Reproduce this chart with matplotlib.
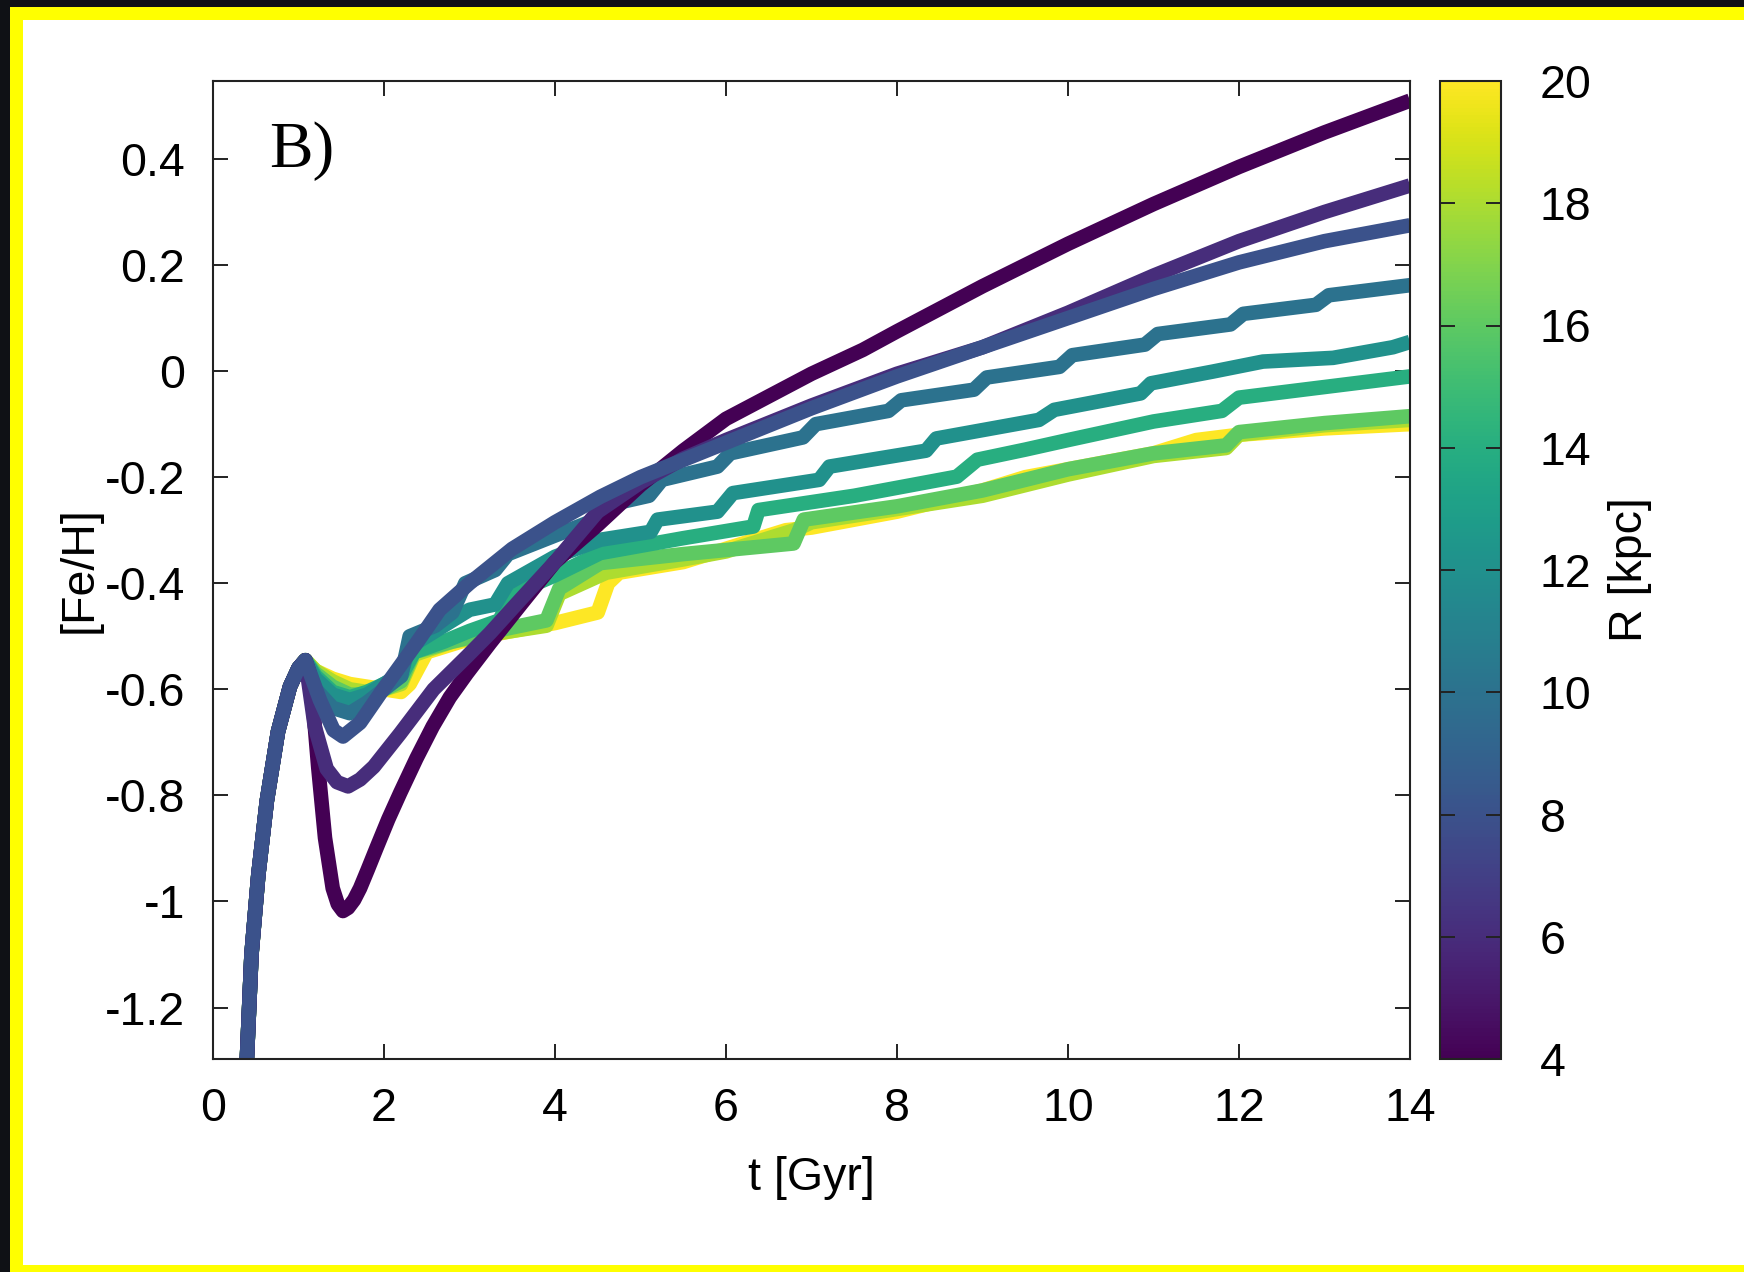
import numpy as np
import matplotlib
matplotlib.use("Agg")
import matplotlib.pyplot as plt
from matplotlib.patches import Rectangle
from matplotlib import colors, cm

plt.rcParams['axes.unicode_minus'] = False
plt.rcParams['font.family'] = ['Liberation Sans', 'DejaVu Sans']

# ---------------- data ----------------
radii = [4, 6, 8, 10, 12, 14, 16, 18, 20]

# shared early rise (all radii)
t_rise = [0.39, 0.45, 0.53, 0.63, 0.76, 0.90, 1.00, 1.08]
feh_rise = [-1.32, -1.10, -0.95, -0.81, -0.68, -0.595, -0.56, -0.545]

t_r4 = [1.13, 1.17, 1.23, 1.31, 1.40, 1.46, 1.52, 1.58, 1.65, 1.72, 1.81, 1.91, 2.05, 2.19,
        2.38, 2.57, 2.77, 2.97, 3.24, 3.6, 4.0, 4.5, 5.0, 5.5, 6.0, 7.0, 7.6, 8.0, 9.0, 10.0,
        11.0, 12.0, 13.0, 14.0]
feh_r4 = [-0.57, -0.63, -0.746, -0.88, -0.975, -1.005, -1.018, -1.012, -0.997, -0.975,
          -0.94, -0.90, -0.845, -0.795, -0.73, -0.67, -0.615, -0.57, -0.513, -0.44, -0.36,
          -0.29, -0.215, -0.15, -0.09, -0.005, 0.04, 0.075, 0.16, 0.24, 0.315, 0.385, 0.45,
          0.51]

t_r6 = [1.19, 1.33, 1.45, 1.58, 1.72, 1.88, 2.19, 2.58, 2.97, 3.24, 3.6, 4.0, 4.5, 5.0, 5.5,
        6.0, 7.0, 8.0, 9.0, 10.0, 11.0, 12.0, 13.0, 14.0]
feh_r6 = [-0.67, -0.75, -0.775, -0.783, -0.77, -0.746, -0.683, -0.60, -0.538, -0.494, -0.43,
          -0.36, -0.265, -0.21, -0.165, -0.13, -0.065, -0.005, 0.045, 0.11, 0.18, 0.245, 0.30, 0.35]

t_r8 = [1.25, 1.41, 1.52, 1.72, 1.99, 2.38, 2.65, 3.0, 3.5, 4.0, 4.53, 5.0, 6.0, 7.0, 8.0,
        9.0, 10.0, 11.0, 12.0, 13.0, 14.0]
feh_r8 = [-0.62, -0.677, -0.689, -0.663, -0.60, -0.513, -0.45, -0.40, -0.335, -0.285, -0.237,
          -0.20, -0.135, -0.07, -0.01, 0.045, 0.10, 0.155, 0.205, 0.245, 0.275]

t_r10 = [1.2, 1.4, 1.6, 1.8, 2.0, 2.2, 2.3, 2.6, 2.8, 2.95, 3.3, 3.45, 4.0, 4.4, 4.55, 5.1,
         5.25, 5.9, 6.05, 6.9, 7.05, 7.9, 8.05, 8.9, 9.05, 9.9, 10.05, 10.9, 11.05, 11.9,
         12.05, 12.9, 13.05, 14.0]
feh_r10 = [-0.60, -0.635, -0.645, -0.625, -0.60, -0.575, -0.50, -0.48, -0.455, -0.40, -0.375,
           -0.345, -0.31, -0.285, -0.255, -0.235, -0.205, -0.18, -0.155, -0.125, -0.10, -0.075,
           -0.055, -0.035, -0.012, 0.008, 0.03, 0.05, 0.07, 0.088, 0.108, 0.125, 0.143, 0.162]

t_r12 = [1.2, 1.4, 1.6, 1.8, 2.0, 2.2, 2.3, 2.6, 2.8, 3.0, 3.3, 3.45, 4.0, 4.53, 5.12, 5.2,
         5.9, 6.08, 7.09, 7.21, 8.34, 8.46, 9.66, 9.84, 10.85, 10.97, 11.69, 12.28, 13.1,
         13.8, 14.0]
feh_r12 = [-0.58, -0.61, -0.62, -0.61, -0.59, -0.57, -0.52, -0.49, -0.47, -0.45, -0.44, -0.40,
           -0.35, -0.318, -0.303, -0.28, -0.265, -0.23, -0.205, -0.18, -0.15, -0.127, -0.092,
           -0.073, -0.042, -0.023, -0.001, 0.018, 0.025, 0.045, 0.055]

t_r14 = [1.2, 1.4, 1.6, 1.8, 2.0, 2.2, 2.35, 2.7, 3.0, 3.35, 3.5, 4.0, 4.53, 5.5, 6.32, 6.38,
         7.5, 8.70, 8.94, 9.5, 10.0, 11.0, 11.8, 12.0, 13.0, 14.0]
feh_r14 = [-0.575, -0.605, -0.615, -0.605, -0.59, -0.575, -0.53, -0.51, -0.49, -0.47, -0.42,
           -0.385, -0.343, -0.315, -0.293, -0.262, -0.235, -0.199, -0.167, -0.148, -0.13,
           -0.095, -0.075, -0.05, -0.03, -0.01]

t_r16 = [1.2, 1.4, 1.6, 1.8, 2.0, 2.2, 2.35, 2.8, 3.3, 3.9, 4.05, 4.53, 5.5, 6.79, 6.91, 8.0,
         9.0, 10.0, 11.0, 11.85, 12.0, 13.0, 14.0]
feh_r16 = [-0.57, -0.595, -0.61, -0.61, -0.60, -0.585, -0.53, -0.51, -0.49, -0.47, -0.41,
           -0.362, -0.345, -0.325, -0.28, -0.255, -0.225, -0.185, -0.155, -0.14, -0.115,
           -0.098, -0.085]

t_r18 = [1.2, 1.4, 1.6, 1.8, 2.0, 2.2, 2.35, 2.8, 3.3, 3.9, 4.05, 4.6, 5.5, 6.0, 6.8, 7.0,
         8.0, 9.0, 10.0, 11.0, 11.85, 12.0, 13.0, 14.0]
feh_r18 = [-0.565, -0.585, -0.60, -0.605, -0.60, -0.59, -0.535, -0.51, -0.495, -0.48, -0.42,
           -0.38, -0.355, -0.34, -0.30, -0.285, -0.26, -0.235, -0.195, -0.16, -0.145, -0.12,
           -0.102, -0.092]

t_r20 = [1.2, 1.4, 1.6, 1.8, 2.0, 2.2, 2.3, 2.5, 3.0, 3.5, 4.0, 4.5, 4.62, 4.75, 5.5, 6.7,
         7.0, 8.0, 9.0, 9.5, 10.0, 11.0, 11.5, 12.0, 13.0, 14.0]
feh_r20 = [-0.565, -0.58, -0.59, -0.595, -0.60, -0.605, -0.59, -0.53, -0.505, -0.49, -0.475,
           -0.455, -0.40, -0.38, -0.36, -0.30, -0.295, -0.265, -0.225, -0.20, -0.185, -0.155,
           -0.13, -0.12, -0.108, -0.10]

x_ticks = [0, 2, 4, 6, 8, 10, 12, 14]
y_ticks = [0.4, 0.2, 0.0, -0.2, -0.4, -0.6, -0.8, -1.0, -1.2]
y_tick_labels = ['0.4', '0.2', '0', '-0.2', '-0.4', '-0.6', '-0.8', '-1', '-1.2']
cbar_ticks = [4, 6, 8, 10, 12, 14, 16, 18, 20]

series = {
    4: (t_r4, feh_r4), 6: (t_r6, feh_r6), 8: (t_r8, feh_r8), 10: (t_r10, feh_r10),
    12: (t_r12, feh_r12), 14: (t_r14, feh_r14), 16: (t_r16, feh_r16),
    18: (t_r18, feh_r18), 20: (t_r20, feh_r20),
}
draw_order = [20, 18, 16, 14, 12, 10, 4, 6, 8]

# ---------------- figure ----------------
W, H = 1744, 1272
fig = plt.figure(figsize=(W / 100, H / 100), dpi=100)
fig.patch.set_facecolor('white')

def px_rect(x0, y0, x1, y1, color):
    # pixel coords measured from top-left
    fig.add_artist(Rectangle((x0 / W, 1 - y1 / H), (x1 - x0) / W, (y1 - y0) / H,
                             transform=fig.transFigure, facecolor=color,
                             edgecolor='none', zorder=-10))

black = '#0f1115'
yellow = '#ffff00'
px_rect(0, 0, 10, H, black)
px_rect(0, 0, W, 7, black)
px_rect(10, 7, 23, H, yellow)
px_rect(10, 7, W, 20, yellow)
px_rect(10, H - 7, W, H, yellow)

ax_l, ax_r, ax_t, ax_b = 213, 1410, 81, 1059
ax = fig.add_axes([ax_l / W, 1 - ax_b / H, (ax_r - ax_l) / W, (ax_b - ax_t) / H])
cb_l, cb_r = 1440, 1501
cax = fig.add_axes([cb_l / W, 1 - ax_b / H, (cb_r - cb_l) / W, (ax_b - ax_t) / H])

cmap = plt.get_cmap('viridis')
norm = colors.Normalize(vmin=4, vmax=20)

for i, r in enumerate(draw_order):
    t, f = series[r]
    tt = list(t_rise) + list(t)
    ff = list(feh_rise) + list(f)
    ax.plot(tt, ff, color=cmap(norm(r)), lw=10.5, solid_joinstyle='round',
            solid_capstyle='butt', zorder=2 + i)

ax.set_xlim(0, 14)
ax.set_ylim(-1.297, 0.547)
ax.set_xticks(x_ticks)
ax.set_xticklabels([str(v) for v in x_ticks])
ax.set_yticks(y_ticks)
ax.set_yticklabels(y_tick_labels)

fs = 33.5
ax.tick_params(axis='both', which='major', direction='in', length=10.8, width=1.4,
               top=True, right=True, labelsize=fs, color='#222222')
ax.tick_params(axis='x', pad=20)
ax.tick_params(axis='y', pad=20)
for s in ax.spines.values():
    s.set_linewidth(1.5)
    s.set_color('#222222')
    s.set_zorder(50)

ax.set_xlabel('t [Gyr]', fontsize=fs, labelpad=18)
ax.set_ylabel('[Fe/H]', fontsize=fs, labelpad=2)

ax.text(0.047, 0.912, 'B)', transform=ax.transAxes, fontsize=47,
        family=['Liberation Serif', 'DejaVu Serif'], ha='left', va='baseline')

sm = cm.ScalarMappable(norm=norm, cmap=cmap)
cb = fig.colorbar(sm, cax=cax, ticks=cbar_ticks)
cb.ax.set_yticklabels([str(v) for v in cbar_ticks])
cb.outline.set_linewidth(1.5)
cb.outline.set_edgecolor('#222222')
cax.tick_params(axis='y', direction='in', length=11, width=1.4, left=True, right=True,
                labelsize=fs, pad=28, color='#222222')
cb.set_label('R [kpc]', fontsize=fs, labelpad=12)

fig.savefig('out.png', dpi=100)
